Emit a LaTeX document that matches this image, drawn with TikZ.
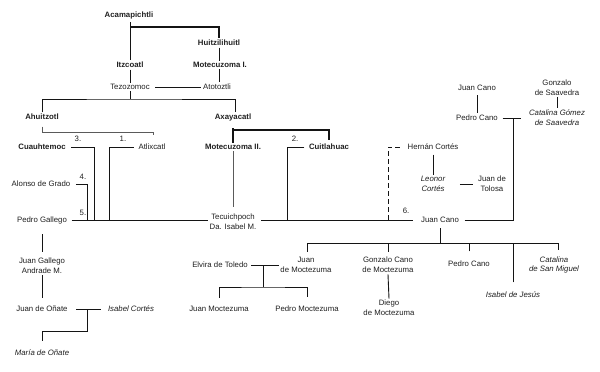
\documentclass[tikz,border=0pt]{standalone}
\usepackage{fontspec}
\setmainfont{Liberation Sans}
\usetikzlibrary{calc}
\definecolor{txt}{HTML}{202020}
\definecolor{ln}{HTML}{141414}
\definecolor{lg}{HTML}{5A5A5A}
\newcommand{\fsz}{\fontsize{7.8}{9.6}\selectfont}
\begin{document}
\begin{tikzpicture}[x=1pt,y=-1pt,
  person/.style={inner sep=1.5pt, font=\fsz, text=txt, align=center},
  bperson/.style={person, font=\fsz\bfseries},
  iperson/.style={person, font=\fsz\itshape},
  num/.style={inner sep=0pt, font=\fsz, text=txt},
  link/.style={draw=ln, line width=0.9pt},
  thickline/.style={draw=ln, line width=1.8pt},
  grayline/.style={draw=lg, line width=0.9pt},
  dashline/.style={draw=ln, line width=0.9pt, dash pattern=on 5pt off 3pt}]
\fill[white] (0,0) rectangle (600,372);
\useasboundingbox (0,0) rectangle (600,372);

% --- people ---
\node[bperson] (acam)   at (129,15)  {Acamapichtli};
\node[bperson] (huitz)  at (219,43)  {Huitzilihuitl};
\node[bperson] (itz)    at (130,65)  {Itzcoatl};
\node[bperson] (mot1)   at (220,65)  {Motecuzoma I.};
\node[person]  (tezo)   at (130,87)  {Tezozomoc};
\node[person]  (atot)   at (217,87)  {Atotoztli};
\node[bperson] (ahu)    at (42,117)  {Ahuitzotl};
\node[bperson] (axa)    at (233,117) {Axayacatl};
\node[bperson] (cuauh)  at (42,147)  {Cuauhtemoc};
\node[person]  (atlix)  at (152,147) {Atlixcatl};
\node[bperson] (mot2)   at (233,147) {Motecuzoma II.};
\node[bperson] (cuit)   at (329,147) {Cuitlahuac};
\node[person]  (alonso) at (41,184)  {Alonso de Grado};
\node[person]  (pgal)   at (42,220)  {Pedro Gallego};
\node[person]  (tecu)   at (233,222) {Tecuichpoch\\Da. Isabel M.};
\node[person]  (hernan) at (433,147) {Hernán Cortés};
\node[iperson] (leonor) at (433,184) {Leonor\\Cortés};
\node[person]  (tolosa) at (492,184) {Juan de\\Tolosa};
\node[person]  (jcano)  at (440,220) {Juan Cano};
\node[person]  (jcano0) at (477,88)  {Juan Cano};
\node[person]  (pcano0) at (477,118) {Pedro Cano};
\node[person]  (gonz)   at (557,87.5) {Gonzalo\\de Saavedra};
\node[iperson] (catg)   at (557,117.5) {Catalina Gómez\\de Saavedra};
\node[person]  (jdm)    at (306,265) {Juan\\de Moctezuma};
\node[person]  (gcm)    at (388,265) {Gonzalo Cano\\de Moctezuma};
\node[person]  (pc2)    at (469,264) {Pedro Cano};
\node[iperson] (isj)    at (513,295) {Isabel de Jesús};
\node[iperson] (csm)    at (554,265) {Catalina\\de San Miguel};
\node[person]  (diego)  at (389,308) {Diego\\de Moctezuma};
\node[person]  (elvira) at (220,265) {Elvira de Toledo};
\node[person]  (jmoc)   at (219,309) {Juan Moctezuma};
\node[person]  (pmoc)   at (307,309) {Pedro Moctezuma};
\node[person]  (jgal)   at (42,266)  {Juan Gallego\\Andrade M.};
\node[person]  (onate)  at (42,309)  {Juan de Oñate};
\node[iperson] (isc)    at (131,309) {Isabel Cortés};
\node[iperson] (maria)  at (42,353)  {María de Oñate};

% --- numbers ---
\node[num] (n1) at (123,139) {1.};
\node[num] (n2) at (295,139) {2.};
\node[num] (n3) at (78,139)  {3.};
\node[num] (n4) at (83,177)  {4.};
\node[num] (n5) at (83,213)  {5.};
\node[num] (n6) at (406,211) {6.};

% --- junction coordinates ---
\coordinate (j1) at (130,27);
\coordinate (j2) at (130,99);
\coordinate (j3) at (153,132);
\coordinate (j3b) at (153,135);
\coordinate (j4) at (233,130);
\coordinate (c1) at (109,221);
\coordinate (c2) at (287,221);
\coordinate (c3) at (94,221);
\coordinate (c4) at (87,221);
\coordinate (c6) at (388,221);
\coordinate (m1) at (513,118);
\coordinate (j5) at (440,243);
\coordinate (j5r) at (558,243);
\coordinate (j6) at (263,265);
\coordinate (j7) at (263,287);
\coordinate (k1) at (87,309);
\coordinate (k2) at (87,331);

% --- connectors ---
\draw[link, shorten <=2pt] (acam.south -| j1) -- (itz.north -| j1);
\draw[thickline] (j1) -| (huitz.north);
\draw[link] (huitz.south) -- (mot1.north -| huitz.south);
\draw[link] (itz.south) -- (tezo.north);
\draw[link] (mot1.south -| huitz.south) -- (atot.north -| huitz.south);
\draw[link, shorten <=4pt] (tezo.east) -- (atot.west);
\draw[link] (tezo.south) -- (j2);
\draw[link] (ahu.north) |- (j2) -| ($(axa.north)+(2.5,0)$);
\draw[grayline, shorten <=5pt] (ahu.south) |- (j3) -- (j3b);
\draw[thickline, shorten <=6pt] (axa.south) -- (mot2.north);
\draw[thickline] (j4) -| ($(cuit.north)+(0,-2)$);
\draw[grayline, shorten >=6pt] (mot2.south) -- (tecu.north);
\draw[link, shorten <=3pt] (pgal.east) -- (pgal.east -| tecu.west);
\draw[link, shorten <=3pt, shorten >=6pt] (tecu.east |- pgal.east) -- (jcano.west);
\draw[link, shorten <=4pt] (cuauh.east) -| (c3);
\draw[link, shorten <=3pt] (atlix.west) -| (c1);
\draw[link, shorten <=4pt] (alonso.east) -| (c4);
\draw[link, shorten <=3pt] (cuit.west) -| (c2);
\draw[dashline, shorten <=6pt] (hernan.west) -| (c6);
\draw[link, shorten <=3pt] (hernan.south) -- (leonor.north);
\draw[link, shorten <=13pt, shorten >=3pt] (leonor.east) -- (tolosa.west);
\draw[link, shorten <=4pt] (jcano.east) -| (m1);
\draw[link, shorten <=3pt, shorten >=6pt] (pcano0.east) -- (pcano0.east -| catg.west);
\draw[link, shorten <=3pt] (jcano0.south) -- (pcano0.north);
\draw[link] (gonz.south) -- (catg.north);
\draw[link, shorten <=4pt] (jcano.south) -- (j5);
\draw[link, shorten <=4pt] ($(jdm.north)+(1,0)$) |- (j5r) -- ($(j5r)+(0,7)$);
\draw[link, shorten <=4pt] (gcm.north) -- (gcm.north |- j5);
\draw[link, shorten <=8pt] (pc2.north) -- (pc2.north |- j5);
\draw[link, shorten <=8pt] (isj.north) -- (isj.north |- j5);
\draw[link] (gcm.south) -- (diego.north);
\draw[link, shorten <=2pt] (elvira.east) -- (jdm.west |- elvira.east);
\draw[link] (j6) -- (j7);
\draw[link, shorten <=7pt] (jmoc.north) |- (j7) -| ($(pmoc.north)+(0,-7)$);
\draw[link, shorten <=9pt, shorten >=5pt] (pgal.south) -- (jgal.north);
\draw[link, shorten >=6pt] (jgal.south) -- (onate.north);
\draw[link, shorten <=7pt, shorten >=5pt] (onate.east) -- (isc.west);
\draw[link] (k1) -- (k2) -| ($(maria.north)+(0,-7)$);
\end{tikzpicture}
\end{document}
